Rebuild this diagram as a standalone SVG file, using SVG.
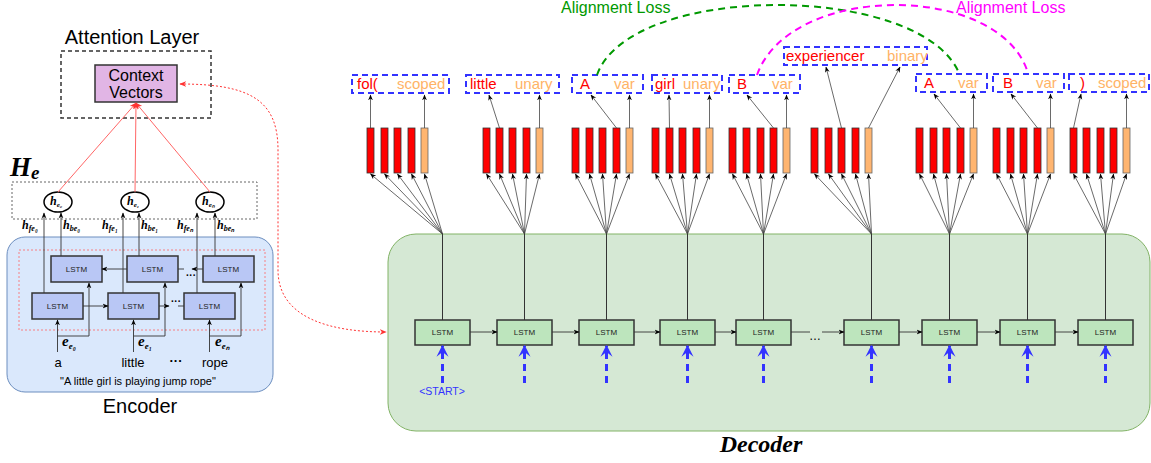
<svg xmlns="http://www.w3.org/2000/svg" width="1151" height="463" viewBox="0 0 1151 463">
<style>
.sans{font-family:"Liberation Sans",Arial,sans-serif}
.ser{font-family:"Liberation Serif","Times New Roman",serif;font-style:italic;font-weight:bold}
.lstmE{fill:#b9c7f5;stroke:#333;stroke-width:1.5}
.lstmD{fill:#bde5bd;stroke:#333;stroke-width:1.5}
.lt{font-family:"Liberation Sans",Arial,sans-serif;font-size:8px;fill:#222;text-anchor:middle}
.ln{stroke:#333;stroke-width:0.9;fill:none;marker-end:url(#ab)}
.fan{stroke:#444;stroke-width:0.8;fill:none;marker-end:url(#ab)}
.bar{fill:#ff0000;stroke:#333;stroke-width:0.8}
.bo{fill:#ffb570;stroke:#666;stroke-width:0.8}
.lbl{fill:none;stroke:#3333ff;stroke-width:2;stroke-dasharray:6,4}
.rt{font-family:"Liberation Sans",Arial,sans-serif;font-size:15px;fill:#ff0000}
.ot{font-family:"Liberation Sans",Arial,sans-serif;font-size:15px;fill:#ffb366}
.blue{stroke:#3333ff;stroke-width:3;stroke-dasharray:7,5;fill:none;marker-end:url(#abl)}
</style>
<defs>
<marker id="ab" viewBox="0 0 10 10" refX="9" refY="5" markerWidth="6" markerHeight="6" markerUnits="userSpaceOnUse" orient="auto"><path d="M0,1 L10,5 L0,9 L3,5 Z" fill="#000"/></marker>
<marker id="ar" viewBox="0 0 10 10" refX="9" refY="5" markerWidth="7" markerHeight="7" markerUnits="userSpaceOnUse" orient="auto-start-reverse"><path d="M0,1 L10,5 L0,9 L3,5 Z" fill="#ff3333"/></marker>
<marker id="abl" viewBox="0 0 10 10" refX="9" refY="5" markerWidth="12" markerHeight="14" markerUnits="userSpaceOnUse" orient="auto"><path d="M0,0 L10,5 L0,10 L4,5 Z" fill="#3333ff"/></marker>
</defs>

<!-- Containers -->
<g id="encoder-box">
<rect x="7" y="237" width="266" height="155" rx="18" fill="#dae8fc" stroke="#6c8ebf" stroke-width="1"/>
<rect x="19" y="250" width="246" height="80" fill="none" stroke="#ff6666" stroke-width="0.8" stroke-dasharray="2,2"/>
<text x="140" y="413" class="sans" font-size="20" text-anchor="middle">Encoder</text>
</g>
<g id="decoder-box">
<rect x="388" y="234" width="762" height="197" rx="28" fill="#d5e8d4" stroke="#82b366" stroke-width="1"/>
<text x="761" y="452" class="ser" font-size="24" text-anchor="middle">Decoder</text>
</g>

<g id="attention">
<text x="132" y="44" class="sans" font-size="20" text-anchor="middle">Attention Layer</text>
<rect x="61" y="51" width="150" height="67" fill="none" stroke="#333" stroke-width="1.5" stroke-dasharray="4,3"/>
</g>
<g id="context-vectors">
<rect x="95" y="65" width="82" height="37" fill="#e1b5e5" stroke="#333" stroke-width="1.5"/>
<text x="136" y="81" class="sans" font-size="16" text-anchor="middle">Context</text>
<text x="136" y="98" class="sans" font-size="16" text-anchor="middle">Vectors</text>
</g>

<g id="He">
<text x="10" y="176" class="ser" font-size="27">H<tspan font-size="19" dy="3">e</tspan></text>
<rect x="12" y="182" width="245" height="37" fill="none" stroke="#666" stroke-width="1" stroke-dasharray="2,2"/>
</g>
<g id="h-e0"><ellipse cx="58" cy="202" rx="14" ry="10" fill="#fff" stroke="#000" stroke-width="1.5"/><text x="50" y="205" class="ser" font-size="12" font-weight="normal">h<tspan font-size="7" dy="2">e₀</tspan></text></g>
<g id="h-e1"><ellipse cx="135" cy="202" rx="14" ry="10" fill="#fff" stroke="#000" stroke-width="1.5"/><text x="127" y="205" class="ser" font-size="12" font-weight="normal">h<tspan font-size="7" dy="2">e₁</tspan></text></g>
<g id="h-en"><ellipse cx="210" cy="202" rx="14" ry="10" fill="#fff" stroke="#000" stroke-width="1.5"/><text x="202" y="205" class="ser" font-size="12" font-weight="normal">h<tspan font-size="7" dy="2">eₙ</tspan></text></g>

<!-- Encoder LSTMs -->
<g id="enc-b1"><rect class="lstmE" x="51" y="256" width="51" height="26"/><text class="lt" x="76.5" y="272" font-size="9">LSTM</text></g>
<g id="enc-b2"><rect class="lstmE" x="127" y="256" width="51" height="26"/><text class="lt" x="152.5" y="272" font-size="9">LSTM</text></g>
<g id="enc-b3"><rect class="lstmE" x="203" y="256" width="51" height="26"/><text class="lt" x="228.5" y="272" font-size="9">LSTM</text></g>
<g id="enc-f1"><rect class="lstmE" x="32" y="293" width="51" height="26"/><text class="lt" x="57.5" y="309" font-size="9">LSTM</text></g>
<g id="enc-f2"><rect class="lstmE" x="108" y="293" width="51" height="26"/><text class="lt" x="133.5" y="309" font-size="9">LSTM</text></g>
<g id="enc-f3"><rect class="lstmE" x="184" y="293" width="51" height="26"/><text class="lt" x="209.5" y="309" font-size="9">LSTM</text></g>

<g id="enc-labels">
<text x="22" y="229" class="ser" font-size="12">h<tspan font-size="8" dy="2">fe₀</tspan></text>
<text x="63" y="229" class="ser" font-size="12">h<tspan font-size="8" dy="2">be₀</tspan></text>
<text x="102" y="229" class="ser" font-size="12">h<tspan font-size="8" dy="2">fe₁</tspan></text>
<text x="141" y="229" class="ser" font-size="12">h<tspan font-size="8" dy="2">be₁</tspan></text>
<text x="177" y="229" class="ser" font-size="12">h<tspan font-size="8" dy="2">feₙ</tspan></text>
<text x="217" y="229" class="ser" font-size="12">h<tspan font-size="8" dy="2">beₙ</tspan></text>
<text x="62" y="346" class="ser" font-size="15">e<tspan font-size="9" dy="3">e₀</tspan></text>
<text x="138" y="346" class="ser" font-size="15">e<tspan font-size="9" dy="3">e₁</tspan></text>
<text x="215" y="346" class="ser" font-size="15">e<tspan font-size="9" dy="3">eₙ</tspan></text>
<text x="58" y="367" class="sans" font-size="13" text-anchor="middle">a</text>
<text x="133" y="367" class="sans" font-size="13" text-anchor="middle">little</text>
<text x="176" y="365" class="sans" font-size="13" text-anchor="middle" font-weight="bold">···</text>
<text x="215" y="367" class="sans" font-size="13" text-anchor="middle">rope</text>
<text x="138" y="385" class="sans" font-size="11" text-anchor="middle">"A little girl is playing jump rope"</text>
<text x="176" y="305" class="sans" font-size="10" text-anchor="middle" font-weight="bold">···</text>
<text x="191" y="279" class="sans" font-size="10" text-anchor="middle" font-weight="bold">···</text>
</g>

<!-- Decoder LSTMs -->
<g id="dec1"><rect class="lstmD" x="415" y="320" width="55" height="25"/><text class="lt" x="442.5" y="335">LSTM</text></g>
<g id="dec2"><rect class="lstmD" x="497" y="320" width="55" height="25"/><text class="lt" x="524.5" y="335">LSTM</text></g>
<g id="dec3"><rect class="lstmD" x="579" y="320" width="55" height="25"/><text class="lt" x="606.5" y="335">LSTM</text></g>
<g id="dec4"><rect class="lstmD" x="660" y="320" width="55" height="25"/><text class="lt" x="687.5" y="335">LSTM</text></g>
<g id="dec5"><rect class="lstmD" x="736" y="320" width="55" height="25"/><text class="lt" x="763.5" y="335">LSTM</text></g>
<g id="dec6"><rect class="lstmD" x="844" y="320" width="55" height="25"/><text class="lt" x="871.5" y="335">LSTM</text></g>
<g id="dec7"><rect class="lstmD" x="922" y="320" width="55" height="25"/><text class="lt" x="949.5" y="335">LSTM</text></g>
<g id="dec8"><rect class="lstmD" x="1000" y="320" width="55" height="25"/><text class="lt" x="1027.5" y="335">LSTM</text></g>
<g id="dec9"><rect class="lstmD" x="1078" y="320" width="55" height="25"/><text class="lt" x="1105.5" y="335">LSTM</text></g>
<text x="815" y="340" class="sans" font-size="12" text-anchor="middle">…</text>
<text x="442" y="395" class="sans" font-size="10.5" fill="#3333ff" text-anchor="middle">&lt;START&gt;</text>

<!-- Bars -->
<g id="bars1"><rect class="bar" x="367" y="128" width="7" height="45"/><rect class="bar" x="381" y="128" width="7" height="45"/><rect class="bar" x="394" y="128" width="7" height="45"/><rect class="bar" x="408" y="128" width="7" height="45"/><rect class="bo" x="421" y="128" width="7" height="45"/></g>
<g id="bars2"><rect class="bar" x="483" y="128" width="7" height="45"/><rect class="bar" x="496" y="128" width="7" height="45"/><rect class="bar" x="509" y="128" width="7" height="45"/><rect class="bar" x="523" y="128" width="7" height="45"/><rect class="bo" x="536" y="128" width="7" height="45"/></g>
<g id="bars3"><rect class="bar" x="572" y="128" width="7" height="45"/><rect class="bar" x="586" y="128" width="7" height="45"/><rect class="bar" x="599" y="128" width="7" height="45"/><rect class="bar" x="613" y="128" width="7" height="45"/><rect class="bo" x="626" y="128" width="7" height="45"/></g>
<g id="bars4"><rect class="bar" x="652" y="128" width="7" height="45"/><rect class="bar" x="666" y="128" width="7" height="45"/><rect class="bar" x="679" y="128" width="7" height="45"/><rect class="bar" x="693" y="128" width="7" height="45"/><rect class="bo" x="706" y="128" width="7" height="45"/></g>
<g id="bars5"><rect class="bar" x="729" y="128" width="7" height="45"/><rect class="bar" x="743" y="128" width="7" height="45"/><rect class="bar" x="757" y="128" width="7" height="45"/><rect class="bar" x="770" y="128" width="7" height="45"/><rect class="bo" x="783" y="128" width="7" height="45"/></g>
<g id="bars6"><rect class="bar" x="811" y="128" width="7" height="45"/><rect class="bar" x="825" y="128" width="7" height="45"/><rect class="bar" x="838" y="128" width="7" height="45"/><rect class="bar" x="852" y="128" width="7" height="45"/><rect class="bo" x="865" y="128" width="7" height="45"/></g>
<g id="bars7"><rect class="bar" x="916" y="128" width="7" height="45"/><rect class="bar" x="930" y="128" width="7" height="45"/><rect class="bar" x="943" y="128" width="7" height="45"/><rect class="bar" x="957" y="128" width="7" height="45"/><rect class="bo" x="970" y="128" width="7" height="45"/></g>
<g id="bars8"><rect class="bar" x="993" y="128" width="7" height="45"/><rect class="bar" x="1007" y="128" width="7" height="45"/><rect class="bar" x="1020" y="128" width="7" height="45"/><rect class="bar" x="1034" y="128" width="7" height="45"/><rect class="bo" x="1047" y="128" width="7" height="45"/></g>
<g id="bars9"><rect class="bar" x="1070" y="128" width="7" height="45"/><rect class="bar" x="1083" y="128" width="7" height="45"/><rect class="bar" x="1097" y="128" width="7" height="45"/><rect class="bar" x="1110" y="128" width="7" height="45"/><rect class="bo" x="1123" y="128" width="7" height="45"/></g>

<!-- Output labels -->
<g id="out1"><rect class="lbl" x="352" y="75" width="97" height="18"/><text class="rt" x="357" y="89">fol(</text><text class="ot" x="397" y="89">scoped</text></g>
<g id="out2"><rect class="lbl" x="466" y="75" width="93" height="18"/><text class="rt" x="470" y="89">little</text><text class="ot" x="515" y="89">unary</text></g>
<g id="out3"><rect class="lbl" x="572" y="75" width="71" height="18"/><text class="rt" x="580" y="89">A</text><text class="ot" x="614" y="89">var</text></g>
<g id="out4"><rect class="lbl" x="652" y="75" width="70" height="18"/><text class="rt" x="655" y="89">girl</text><text class="ot" x="683" y="89">unary</text></g>
<g id="out5"><rect class="lbl" x="729" y="75" width="71" height="18"/><text class="rt" x="737" y="89">B</text><text class="ot" x="772" y="89">var</text></g>
<g id="out6"><rect class="lbl" x="784" y="47" width="143" height="18"/><text class="rt" x="786" y="61">experiencer</text><text class="ot" x="887" y="61">binary</text></g>
<g id="out7"><rect class="lbl" x="916" y="74" width="71" height="18"/><text class="rt" x="924" y="88">A</text><text class="ot" x="958" y="88">var</text></g>
<g id="out8"><rect class="lbl" x="993" y="74" width="71" height="18"/><text class="rt" x="1003" y="88">B</text><text class="ot" x="1036" y="88">var</text></g>
<g id="out9"><rect class="lbl" x="1069" y="74" width="80" height="18"/><text class="rt" x="1080" y="88">)</text><text class="ot" x="1098" y="88">scoped</text></g>

<!-- Connectors -->
<g id="connectors">
<g stroke="#ff6666" stroke-width="1" fill="none" marker-end="url(#ar)">
<line x1="58" y1="192" x2="136" y2="103"/>
<line x1="135" y1="192" x2="136" y2="103"/>
<line x1="210" y1="192" x2="136" y2="103"/>
</g>
<path d="M180,84 C250,84 278,100 278,150 L278,270 C278,318 330,332 386,332" fill="none" stroke="#ff3333" stroke-width="1" stroke-dasharray="2,2" marker-start="url(#ar)" marker-end="url(#ar)"/>
<line class="ln" x1="44" y1="293" x2="44" y2="213"/>
<line class="ln" x1="61" y1="256" x2="61" y2="213"/>
<line class="ln" x1="123" y1="293" x2="123" y2="213"/>
<line class="ln" x1="139" y1="256" x2="139" y2="213"/>
<line class="ln" x1="197" y1="293" x2="197" y2="213"/>
<line class="ln" x1="215" y1="256" x2="215" y2="213"/>
<line class="ln" x1="57.5" y1="352" x2="57.5" y2="320"/>
<line class="ln" x1="133.5" y1="352" x2="133.5" y2="320"/>
<line class="ln" x1="209.5" y1="352" x2="209.5" y2="320"/>
<polyline class="ln" points="57.5,336 89,336 89,283"/>
<polyline class="ln" points="133.5,336 165,336 165,283"/>
<polyline class="ln" points="209.5,336 241,336 241,283"/>
<line class="ln" x1="83" y1="306" x2="108" y2="306"/>
<line class="ln" x1="159" y1="306" x2="169" y2="306"/>
<line x1="178" y1="306" x2="184" y2="306" stroke="#333" stroke-width="0.9"/>
<line class="ln" x1="127" y1="269" x2="102" y2="269"/>
<line x1="178" y1="269" x2="184" y2="269" stroke="#333" stroke-width="0.9"/>
<line class="ln" x1="203" y1="269" x2="192" y2="269"/>
<line class="ln" x1="470" y1="332" x2="497" y2="332"/>
<line class="ln" x1="552" y1="332" x2="579" y2="332"/>
<line class="ln" x1="634" y1="332" x2="660" y2="332"/>
<line class="ln" x1="715" y1="332" x2="736" y2="332"/>
<line x1="791" y1="332" x2="810" y2="332" stroke="#333" stroke-width="0.9"/>
<line class="ln" x1="822" y1="332" x2="844" y2="332"/>
<line class="ln" x1="899" y1="332" x2="922" y2="332"/>
<line class="ln" x1="977" y1="332" x2="1000" y2="332"/>
<line class="ln" x1="1055" y1="332" x2="1078" y2="332"/>
<g stroke="#333" stroke-width="1">
<line x1="442.5" y1="320" x2="442.5" y2="234"/>
<line x1="524.5" y1="320" x2="524.5" y2="234"/>
<line x1="606.5" y1="320" x2="606.5" y2="234"/>
<line x1="687.5" y1="320" x2="687.5" y2="234"/>
<line x1="763.5" y1="320" x2="763.5" y2="234"/>
<line x1="871.5" y1="320" x2="871.5" y2="234"/>
<line x1="949.5" y1="320" x2="949.5" y2="234"/>
<line x1="1027.5" y1="320" x2="1027.5" y2="234"/>
<line x1="1105.5" y1="320" x2="1105.5" y2="234"/>
</g>
<line class="blue" x1="442.5" y1="383" x2="442.5" y2="346"/>
<line class="blue" x1="524.5" y1="383" x2="524.5" y2="346"/>
<line class="blue" x1="606.5" y1="383" x2="606.5" y2="346"/>
<line class="blue" x1="687.5" y1="383" x2="687.5" y2="346"/>
<line class="blue" x1="763.5" y1="383" x2="763.5" y2="346"/>
<line class="blue" x1="871.5" y1="383" x2="871.5" y2="346"/>
<line class="blue" x1="949.5" y1="383" x2="949.5" y2="346"/>
<line class="blue" x1="1027.5" y1="383" x2="1027.5" y2="346"/>
<line class="blue" x1="1105.5" y1="383" x2="1105.5" y2="346"/>
<line class="fan" x1="442.5" y1="234" x2="370.5" y2="174"/><line class="fan" x1="442.5" y1="234" x2="384.5" y2="174"/><line class="fan" x1="442.5" y1="234" x2="397.5" y2="174"/><line class="fan" x1="442.5" y1="234" x2="411.5" y2="174"/><line class="fan" x1="442.5" y1="234" x2="424.5" y2="174"/>
<line class="fan" x1="524.5" y1="234" x2="486.5" y2="174"/><line class="fan" x1="524.5" y1="234" x2="499.5" y2="174"/><line class="fan" x1="524.5" y1="234" x2="512.5" y2="174"/><line class="fan" x1="524.5" y1="234" x2="526.5" y2="174"/><line class="fan" x1="524.5" y1="234" x2="539.5" y2="174"/>
<line class="fan" x1="606.5" y1="234" x2="575.5" y2="174"/><line class="fan" x1="606.5" y1="234" x2="589.5" y2="174"/><line class="fan" x1="606.5" y1="234" x2="602.5" y2="174"/><line class="fan" x1="606.5" y1="234" x2="616.5" y2="174"/><line class="fan" x1="606.5" y1="234" x2="629.5" y2="174"/>
<line class="fan" x1="687.5" y1="234" x2="655.5" y2="174"/><line class="fan" x1="687.5" y1="234" x2="669.5" y2="174"/><line class="fan" x1="687.5" y1="234" x2="682.5" y2="174"/><line class="fan" x1="687.5" y1="234" x2="696.5" y2="174"/><line class="fan" x1="687.5" y1="234" x2="709.5" y2="174"/>
<line class="fan" x1="763.5" y1="234" x2="732.5" y2="174"/><line class="fan" x1="763.5" y1="234" x2="746.5" y2="174"/><line class="fan" x1="763.5" y1="234" x2="760.5" y2="174"/><line class="fan" x1="763.5" y1="234" x2="773.5" y2="174"/><line class="fan" x1="763.5" y1="234" x2="786.5" y2="174"/>
<line class="fan" x1="871.5" y1="234" x2="814.5" y2="174"/><line class="fan" x1="871.5" y1="234" x2="828.5" y2="174"/><line class="fan" x1="871.5" y1="234" x2="841.5" y2="174"/><line class="fan" x1="871.5" y1="234" x2="855.5" y2="174"/><line class="fan" x1="871.5" y1="234" x2="868.5" y2="174"/>
<line class="fan" x1="949.5" y1="234" x2="919.5" y2="174"/><line class="fan" x1="949.5" y1="234" x2="933.5" y2="174"/><line class="fan" x1="949.5" y1="234" x2="946.5" y2="174"/><line class="fan" x1="949.5" y1="234" x2="960.5" y2="174"/><line class="fan" x1="949.5" y1="234" x2="973.5" y2="174"/>
<line class="fan" x1="1027.5" y1="234" x2="996.5" y2="174"/><line class="fan" x1="1027.5" y1="234" x2="1010.5" y2="174"/><line class="fan" x1="1027.5" y1="234" x2="1023.5" y2="174"/><line class="fan" x1="1027.5" y1="234" x2="1037.5" y2="174"/><line class="fan" x1="1027.5" y1="234" x2="1050.5" y2="174"/>
<line class="fan" x1="1105.5" y1="234" x2="1073.5" y2="174"/><line class="fan" x1="1105.5" y1="234" x2="1086.5" y2="174"/><line class="fan" x1="1105.5" y1="234" x2="1100.5" y2="174"/><line class="fan" x1="1105.5" y1="234" x2="1113.5" y2="174"/><line class="fan" x1="1105.5" y1="234" x2="1126.5" y2="174"/>
<line class="fan" x1="370.5" y1="128" x2="370.5" y2="95"/><line class="fan" x1="424.5" y1="128" x2="424.5" y2="95"/>
<line class="fan" x1="499.5" y1="128" x2="489" y2="95"/><line class="fan" x1="539.5" y1="128" x2="539.5" y2="95"/>
<line class="fan" x1="616.5" y1="128" x2="591" y2="95"/><line class="fan" x1="629.5" y1="128" x2="629.5" y2="95"/>
<line class="fan" x1="669.5" y1="128" x2="669" y2="95"/><line class="fan" x1="709.5" y1="128" x2="709.5" y2="95"/>
<line class="fan" x1="773.5" y1="128" x2="747" y2="95"/><line class="fan" x1="786.5" y1="128" x2="786.5" y2="95"/>
<line class="fan" x1="841.5" y1="128" x2="826" y2="67"/><line class="fan" x1="868.5" y1="128" x2="900" y2="67"/>
<line class="fan" x1="960.5" y1="128" x2="934" y2="94"/><line class="fan" x1="973.5" y1="128" x2="973.5" y2="94"/>
<line class="fan" x1="1037.5" y1="128" x2="1011" y2="94"/><line class="fan" x1="1050.5" y1="128" x2="1050.5" y2="94"/>
<line class="fan" x1="1073.5" y1="128" x2="1081" y2="94"/><line class="fan" x1="1126.5" y1="128" x2="1126.5" y2="94"/>
<path d="M597,75 C630,-18 920,-18 959,73" fill="none" stroke="#009900" stroke-width="2" stroke-dasharray="7,5"/>
<path d="M757,75 C790,-18 1000,-18 1028,73" fill="none" stroke="#ff00ff" stroke-width="2" stroke-dasharray="7,5"/>
</g>
<text x="561" y="13" class="sans" font-size="16" fill="#009900">Alignment Loss</text>
<text x="956" y="13" class="sans" font-size="16" fill="#ff00ff">Alignment Loss</text>
</svg>
